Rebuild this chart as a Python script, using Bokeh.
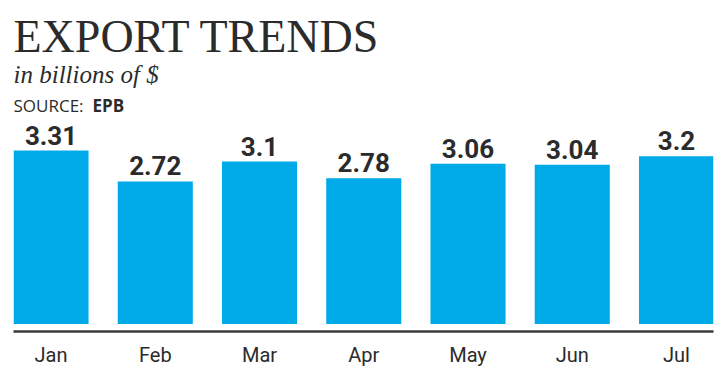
from bokeh.plotting import figure
from bokeh.models import ColumnDataSource, Range1d, FixedTicker, LabelSet, Label
from bokeh.core.properties import value
from bokeh.embed import file_html
from bokeh.resources import INLINE

# ---- data ----
months = ["Jan", "Feb", "Mar", "Apr", "May", "Jun", "Jul"]
exports = [3.31, 2.72, 3.1, 2.78, 3.06, 3.04, 3.2]
value_labels = ["3.31", "2.72", "3.1", "2.78", "3.06", "3.04", "3.2"]
title_text = "EXPORT TRENDS"
subtitle_text = "in billions of $"
source_label = "SOURCE:"
source_name = "EPB"

# ---- styles ----
BAR_COLOR = "#00A9E8"
TEXT_COLOR = "#2b2b2b"
AXIS_COLOR = "#3a3a3a"
SANS = "Roboto"

PX_PER_UNIT = 52.4
ZERO_PY = 323.5
FRAME_BOTTOM = 331
X_START, X_END = -0.36, 6.355


def py_to_y(py):
    return (ZERO_PY - py) / PX_PER_UNIT


x_idx = list(range(len(months)))
src = ColumnDataSource(dict(x=x_idx, top=exports, label=value_labels))

p = figure(width=721, height=374, output_backend="svg", toolbar_location=None,
           x_range=Range1d(X_START, X_END),
           y_range=Range1d(py_to_y(FRAME_BOTTOM), py_to_y(0)),
           y_axis_location=None,
           min_border_left=13, min_border_right=8, min_border_top=0, min_border_bottom=43)
p.outline_line_color = None
p.xgrid.visible = False
p.ygrid.visible = False
p.background_fill_color = "white"
p.border_fill_color = "white"

p.vbar(x="x", top="top", bottom=0, width=0.72, source=src,
       fill_color=BAR_COLOR, line_color=None)

labels = LabelSet(x="x", y="top", text="label", source=src, y_offset=6,
                  text_align="center", text_baseline="alphabetic",
                  text_font=value(SANS), text_font_style="bold",
                  text_font_size="26px", text_color=TEXT_COLOR)
p.add_layout(labels)

ax = p.xaxis[0]
ax.ticker = FixedTicker(ticks=x_idx)
ax.major_label_overrides = dict(zip(x_idx, months))
ax.major_label_text_font = SANS
ax.major_label_text_font_size = "20px"
ax.major_label_text_color = TEXT_COLOR
ax.major_label_standoff = 5
ax.axis_line_color = AXIS_COLOR
ax.axis_line_width = 2.5
ax.major_tick_line_color = None
ax.minor_tick_line_color = None

# headings (pixel positions of the text baselines, compensated for label metrics)
p.add_layout(Label(x=X_START, y=py_to_y(36), text=title_text,
                   text_font="Liberation Serif", text_font_size="46px",
                   text_color=TEXT_COLOR, text_baseline="alphabetic", text_align="left"))
p.add_layout(Label(x=X_START, y=py_to_y(74), text=subtitle_text,
                   text_font="Liberation Serif", text_font_style="italic", text_font_size="25px",
                   text_color=TEXT_COLOR, text_baseline="alphabetic", text_align="left"))
p.add_layout(Label(x=X_START, y=py_to_y(105), text=source_label,
                   text_font="Open Sans", text_font_size="17px",
                   text_color=TEXT_COLOR, text_baseline="alphabetic", text_align="left"))
p.add_layout(Label(x=X_START, y=py_to_y(105), x_offset=79, text=source_name,
                   text_font="Open Sans", text_font_style="bold", text_font_size="17px",
                   text_color=TEXT_COLOR, text_baseline="alphabetic", text_align="left"))

open("out.html", "w").write(file_html(p, INLINE))
